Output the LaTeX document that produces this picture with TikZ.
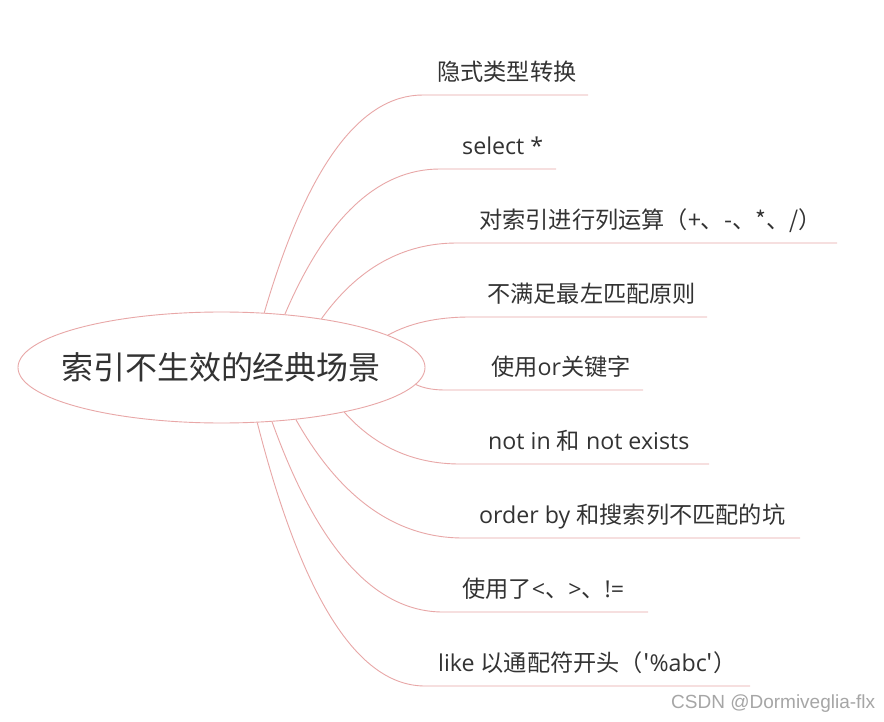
\documentclass[tikz,border=0pt]{standalone}
\usepackage{fontspec}
\setmainfont{Open Sans}
\newfontfamily\cjk{Noto Sans CJK SC}
\newfontfamily\wmfont{Liberation Sans}
\usetikzlibrary{shapes.geometric,calc}
\definecolor{linec}{HTML}{E8A7A7}
\definecolor{txt}{HTML}{333333}
\definecolor{wmc}{HTML}{A6A6A6}
\tikzset{
  branch/.style={draw=linec, line width=0.9pt},
  lbl/.style={anchor=base west, inner sep=0pt, text=txt, font=\fontsize{23.2}{23.2}\selectfont},
  rootshape/.style={ellipse, draw=linec, line width=0.9pt, minimum width=407pt, minimum height=111pt, inner sep=0pt},
  rootlbl/.style={anchor=base, inner sep=0pt, text=txt, font=\cjk\fontsize{32}{32}\selectfont},
  wmark/.style={anchor=base west, inner sep=0pt, text=wmc, font=\wmfont\fontsize{19}{19}\selectfont}
}
\newcommand{\brc}[4]{% start, end, underline end, name
  \coordinate (e#4) at (#2);
  \coordinate (u#4) at (#3);
  \path ($(#1)!0.4!(e#4)$) coordinate (m#4);
  \coordinate (c#4) at (m#4 |- e#4);
  \draw[branch] (#1) .. controls ($(#1)!0.6667!(c#4)$) and ($(e#4)!0.6667!(c#4)$) .. (e#4) -- (u#4);
}
\begin{document}
\begin{tikzpicture}[x=1pt,y=-1pt]
\useasboundingbox[fill=white] (0,0) rectangle (884,722);
\node[rootshape] (root) at (221.5,367.5) {};
\node[rootlbl] (rootlabel) at (221,379) {索引不生效的经典场景};

\node[lbl] (t1) at (437,80.5) {\cjk 隐式类型转换};
\node[lbl] (t2) at (462,154.5) {select *};
\node[lbl] (t3) at (479,228.5) {\cjk 对索引进行列运算（+、-、*、/）};
\node[lbl] (t4) at (487,302) {\cjk 不满足最左匹配原则};
\node[lbl] (t5) at (491,375.5) {{\cjk 使用}or{\cjk 关键字}};
\node[lbl] (t6) at (488,449.5) {not in {\cjk 和} not exists};
\node[lbl] (t7) at (479,523.5) {order by {\cjk 和搜索列不匹配的坑}};
\node[lbl] (t8) at (462,597.5) {{\cjk 使用了}<{\cjk 、}>{\cjk 、}!=};
\node[lbl] (t9) at (438,671.5) {like {\cjk 以通配符开头（}{\cjk '}\%abc{\cjk '}{\cjk ）}};

\brc{root.52.7}{423,95}{588,95}{1}
\brc{root.40.0}{440,169}{556,169}{2}
\brc{root.26.7}{457,243}{837,243}{3}
\brc{root.11.4}{470,317}{707,317}{4}
\brc{root.-5.1}{445,390}{643,390}{5}
\brc{root.-20.7}{460,464}{709,464}{6}
\brc{root.-35.0}{463,538}{800,538}{7}
\brc{root.-47.1}{443,612}{648,612}{8}
\brc{root.-57.1}{425,686}{750,686}{9}

\node[wmark] (wm) at (671,708) {CSDN @Dormiveglia-flx};
\end{tikzpicture}
\end{document}
